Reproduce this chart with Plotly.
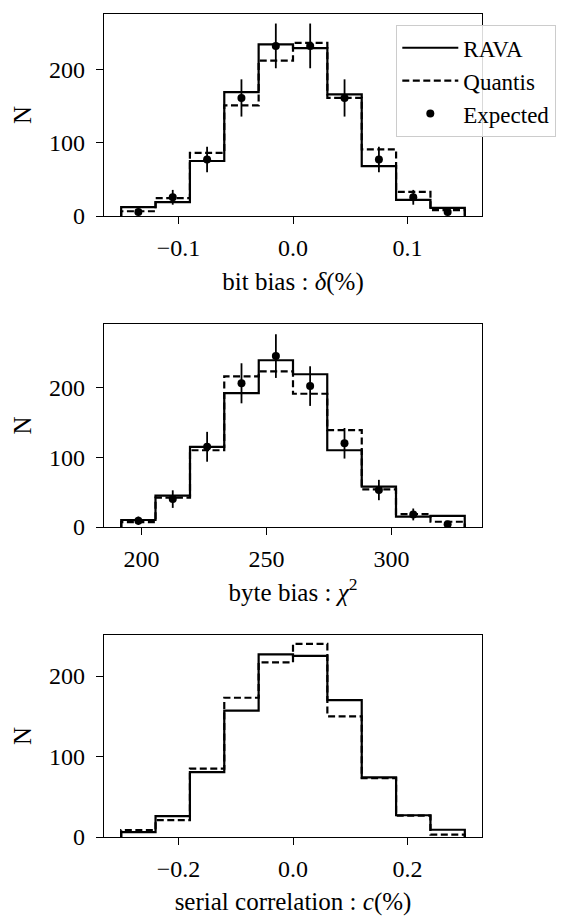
import plotly.graph_objects as go

# ---------------- data ----------------
bit_edges = [-0.15, -0.12, -0.09, -0.06, -0.03, 0.0, 0.03, 0.06, 0.09, 0.12, 0.15]
bit_rava = [12, 19, 75, 169, 234, 229, 166, 68, 22, 11]
bit_quantis = [6.5, 24.5, 86, 151, 212, 236, 161, 91, 33, 8]
bit_expected = [5.5, 25.5, 77, 161, 232, 232, 161, 77, 25.5, 5.5]
bit_expected_err = [4.7, 10.1, 17.5, 25.4, 30.5, 30.5, 25.4, 17.5, 10.1, 4.7]

byte_edges = [191.9, 205.6, 219.4, 233.1, 246.9, 260.6, 274.3, 288.1, 301.8, 315.6, 329.3]
byte_rava = [10, 45, 115, 192, 239, 219, 110, 58, 15, 16]
byte_quantis = [7, 42, 110, 216, 223, 191, 139, 54, 18.5, 7.5]
byte_expected = [9, 40, 115, 206, 245, 202, 120, 53, 18, 4]
byte_expected_err = [6, 12.6, 21.4, 28.7, 31.3, 28.4, 21.9, 14.6, 8.5, 4]

ser_edges = [-0.30, -0.24, -0.18, -0.12, -0.06, 0.0, 0.06, 0.12, 0.18, 0.24, 0.30]
ser_rava = [6, 26, 80.5, 157, 227, 225, 170, 74, 27, 9]
ser_quantis = [8.5, 21, 85, 173, 217, 240, 150, 73, 26.5, 3]

x_titles = ["bit bias : <i>δ</i>(%)", "byte bias : <i>χ</i><sup>2</sup>", "serial correlation : <i>c</i>(%)"]
x_ticks = [[-0.1, 0.0, 0.1], [200, 250, 300], [-0.2, 0.0, 0.2]]
x_ticktext = [["−0.1", "0.0", "0.1"], ["200", "250", "300"], ["−0.2", "0.0", "0.2"]]
y_ticks = [0, 100, 200]
series_names = ["RAVA", "Quantis", "Expected"]

# ---------------- helpers ----------------
FONT = "Liberation Serif"


def step_xy(edges, counts):
    xs = [edges[0]] + list(edges[:-1]) + [edges[-1]]
    ys = [0] + list(counts) + [0]
    return xs, ys


def centers(edges):
    return [(a + b) / 2 for a, b in zip(edges[:-1], edges[1:])]


fig = go.Figure()

panels = [
    (bit_edges, bit_rava, bit_quantis, bit_expected, bit_expected_err),
    (byte_edges, byte_rava, byte_quantis, byte_expected, byte_expected_err),
    (ser_edges, ser_rava, ser_quantis, None, None),
]

for i, (edges, rava, quantis, expd, experr) in enumerate(panels):
    xa = "x" if i == 0 else f"x{i+1}"
    ya = "y" if i == 0 else f"y{i+1}"
    xs, ys = step_xy(edges, rava)
    fig.add_trace(go.Scatter(x=xs, y=ys, mode="lines", line_shape="hv",
                             line=dict(color="black", width=2.2),
                             name=series_names[0], legendgroup="a",
                             showlegend=(i == 0), xaxis=xa, yaxis=ya))
    xs, ys = step_xy(edges, quantis)
    fig.add_trace(go.Scatter(x=xs, y=ys, mode="lines", line_shape="hv",
                             line=dict(color="black", width=2.2, dash="7px,3.5px"),
                             name=series_names[1], legendgroup="b",
                             showlegend=(i == 0), xaxis=xa, yaxis=ya))
    if expd is not None:
        fig.add_trace(go.Scatter(x=centers(edges), y=expd, mode="markers",
                                 marker=dict(color="black", size=8),
                                 error_y=dict(type="data", array=experr, color="black",
                                              thickness=1.8, width=0),
                                 name=series_names[2], legendgroup="c",
                                 showlegend=(i == 0), xaxis=xa, yaxis=ya))

# ---------------- layout ----------------
W, H = 583, 916
ml, mr, mt, mb = 104, 101, 14, 79
ph = H - mt - mb
px_top = [14, 324, 635]
px_bot = [216, 527, 837]
x_ranges = [[-0.165, 0.165], [185.0, 336.2], [-0.33, 0.33]]
y_ranges = [[0, 275.5], [0, 291], [0, 251]]

axis_common = dict(showline=True, linecolor="black", linewidth=1.3, mirror=True,
                   ticks="outside", ticklen=7, tickwidth=1.3, tickcolor="black",
                   showgrid=False, zeroline=False, automargin=False,
                   tickfont=dict(family=FONT, size=24, color="black"))

layout = dict(width=W, height=H, plot_bgcolor="white", paper_bgcolor="white",
              margin=dict(l=ml, r=mr, t=mt, b=mb, autoexpand=False), showlegend=True,
              font=dict(family=FONT, color="black"))

for i in range(3):
    d0 = (H - mb - px_bot[i]) / ph
    d1 = (H - mb - px_top[i]) / ph
    xk = "xaxis" if i == 0 else f"xaxis{i+1}"
    yk = "yaxis" if i == 0 else f"yaxis{i+1}"
    ya = "y" if i == 0 else f"y{i+1}"
    xa = "x" if i == 0 else f"x{i+1}"
    layout[xk] = dict(axis_common, domain=[0, 1], anchor=ya, range=x_ranges[i],
                      tickvals=x_ticks[i], ticktext=x_ticktext[i], ticklabelstandoff=3,
                      title=dict(text=x_titles[i], font=dict(family=FONT, size=25, color="black"),
                                 standoff=12))
    layout[yk] = dict(axis_common, domain=[d0, d1], anchor=xa, range=y_ranges[i],
                      tickvals=y_ticks, ticklabelstandoff=6,
                      title=dict(text="N", font=dict(family=FONT, size=25, color="black"),
                                 standoff=10))

layout["legend"] = dict(x=(396 - ml) / (W - ml - mr), y=(H - mb - 25) / ph,
                        xanchor="left", yanchor="top",
                        bgcolor="rgba(255,255,255,0.85)", bordercolor="#cccccc", borderwidth=1.3,
                        font=dict(family=FONT, size=23, color="black"),
                        tracegroupgap=0, itemwidth=56)

fig.update_layout(**layout)
fig.write_html("out.html")
